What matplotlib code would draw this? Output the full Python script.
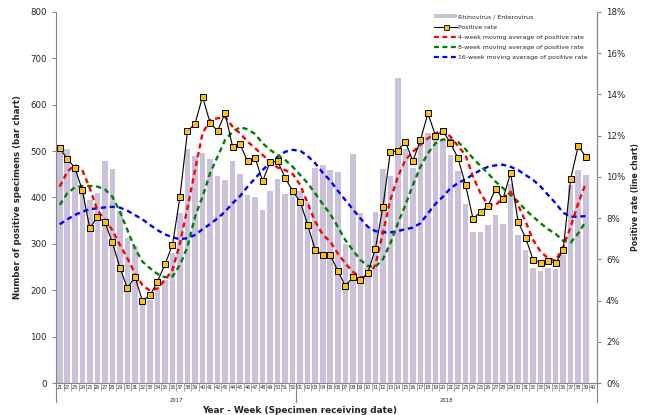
import numpy as np
import matplotlib.pyplot as plt
from matplotlib.patches import Patch
from matplotlib.lines import Line2D
from matplotlib.ticker import FuncFormatter
import matplotlib.transforms as mtransforms

plt.rcParams['font.family'] = ['DejaVu Sans']

weeks_2017 = [str(w) for w in range(21, 53)]
weeks_2018 = ['%02d' % w for w in range(1, 41)]
week_labels = weeks_2017 + weeks_2018

# weekly positive specimens (week 2018-40 has no data yet)
specimens = [505, 505, 460, 420, 395, 410, 478, 461, 370, 313, 295, 180, 178, 207, 222, 280,
             366, 504, 489, 495, 484, 446, 438, 479, 450, 405, 400, 372, 415, 439, 408, 408,
             413, 390, 463, 470, 459, 456, 300, 493, 366, 337, 368, 461, 446, 657, 505, 464,
             520, 540, 535, 527, 492, 458, 385, 326, 325, 341, 362, 343, 430, 319, 287, 249,
             242, 247, 246, 275, 428, 459, 448]

# positive rate (%)
pos_rate = [11.39, 10.87, 10.45, 9.36, 7.50, 8.07, 7.80, 6.83, 5.60, 4.59, 5.16, 3.99, 4.25,
            4.92, 5.76, 6.70, 9.04, 12.23, 12.57, 13.89, 12.63, 12.23, 13.09, 11.47, 11.58,
            10.76, 10.92, 9.80, 10.72, 10.76, 9.96, 9.30, 8.80, 7.67, 6.45, 6.21, 6.20, 5.45,
            4.71, 5.13, 4.98, 5.35, 6.50, 8.52, 11.21, 11.27, 11.71, 10.77, 11.78, 13.09,
            12.00, 12.24, 11.63, 10.92, 9.61, 7.97, 8.30, 8.59, 9.43, 8.94, 10.20, 7.81, 7.04,
            5.98, 5.84, 5.93, 5.81, 6.45, 9.91, 11.50, 10.98]

ma4 = [9.53, 10.25, 10.58, 10.33, 9.45, 8.39, 7.91, 7.42, 6.70, 6.05, 5.32, 4.75, 4.48, 4.59,
       5.00, 5.48, 6.78, 8.50, 10.33, 12.11, 12.76, 12.84, 12.92, 12.44, 12.11, 11.71, 11.39,
       11.06, 10.74, 10.45, 10.33, 10.14, 9.61, 8.72, 7.83, 7.20, 6.86, 6.29, 5.81, 5.40, 5.13,
       5.13, 5.73, 7.26, 8.88, 10.01, 10.82, 11.22, 11.55, 11.87, 12.11, 12.28, 11.95, 11.50,
       11.06, 10.01, 9.20, 8.64, 8.64, 8.96, 9.28, 8.64, 7.83, 6.94, 6.37, 6.05, 5.93, 6.61,
       7.58, 8.72, 9.69]

ma8 = [8.64, 9.20, 9.49, 9.56, 9.56, 9.53, 9.40, 9.04, 8.31, 7.42, 6.54, 5.89, 5.57, 5.29,
       5.13, 5.16, 5.73, 6.61, 8.07, 9.04, 10.17, 10.98, 11.79, 12.19, 12.41, 12.31, 12.08,
       11.63, 11.31, 11.06, 10.82, 10.49, 10.09, 9.69, 9.20, 8.68, 8.20, 7.58, 6.94, 6.45,
       5.97, 5.68, 5.64, 6.00, 6.78, 7.75, 8.64, 9.61, 10.49, 11.15, 11.63, 11.82, 11.79,
       11.70, 11.34, 10.90, 10.53, 10.17, 9.77, 9.45, 9.12, 8.80, 8.39, 8.07, 7.75, 7.46,
       7.23, 6.90, 6.81, 7.26, 7.83]

ma16 = [7.70, 7.94, 8.15, 8.31, 8.43, 8.48, 8.52, 8.55, 8.51, 8.36, 8.15, 7.94, 7.67, 7.42,
        7.21, 7.07, 6.97, 7.03, 7.18, 7.46, 7.71, 7.99, 8.31, 8.72, 9.07, 9.53, 9.93, 10.33,
        10.69, 10.98, 11.22, 11.31, 11.27, 11.01, 10.66, 10.20, 9.82, 9.33, 8.88, 8.43, 7.99,
        7.58, 7.37, 7.31, 7.31, 7.37, 7.46, 7.54, 7.75, 8.23, 8.69, 9.04, 9.45, 9.70, 9.88,
        10.12, 10.33, 10.49, 10.56, 10.59, 10.49, 10.33, 10.09, 9.85, 9.53, 9.12, 8.72, 8.26,
        8.07, 8.07, 8.10]

x_all = np.arange(len(week_labels))
x = np.arange(len(specimens))
axis_grey = '#868686'
txt = '#262626'

fig = plt.figure(figsize=(6.47, 4.15), dpi=100)
ax = fig.add_axes([56 / 647, 1 - 383 / 415, 541 / 647, 371 / 415])

ax.bar(x, specimens, width=0.74, color='#CCC1DA', zorder=1)
ax.set_xlim(-0.5, len(week_labels) - 0.5)
ax.set_ylim(0, 800)
ax.set_yticks(range(0, 801, 100))
ax.tick_params(axis='y', labelsize=6.2, colors=axis_grey, labelcolor=txt, length=3, width=0.8)
ax.set_ylabel('Number of positive specimens (bar chart)', fontsize=6.2, fontweight='bold',
              color=txt, labelpad=6)

# category axis: separator ticks between weeks, labels centred
ax.set_xticks(np.arange(-0.5, len(week_labels), 1.0))
ax.set_xticklabels([])
ax.set_xticks(x_all, minor=True)
ax.set_xticklabels(week_labels, minor=True, fontsize=3.6, color=txt)
ax.tick_params(axis='x', which='major', length=6, width=0.5, colors=axis_grey)
ax.tick_params(axis='x', which='minor', length=0, pad=1.5)

for s in ['top']:
    ax.spines[s].set_visible(False)
for s in ['left', 'right', 'bottom']:
    ax.spines[s].set_color(axis_grey)
    ax.spines[s].set_linewidth(0.8)

trans = mtransforms.blended_transform_factory(ax.transData, ax.transAxes)
for xs in [-0.5, 31.5, len(week_labels) - 0.5]:
    ax.plot([xs, xs], [0, -0.052], transform=trans, color=axis_grey, lw=0.8, clip_on=False)
ax.text(15.5, -0.046, '2017', transform=trans, ha='center', va='center', fontsize=3.8, color=txt)
ax.text(51.5, -0.046, '2018', transform=trans, ha='center', va='center', fontsize=3.8, color=txt)
ax.text(0.45, -0.075, 'Year - Week (Specimen receiving date)', transform=ax.transAxes,
        ha='center', va='center', fontsize=6.4, fontweight='bold', color=txt)

ax2 = ax.twinx()
ax2.set_ylim(0, 18)
ax2.set_yticks(range(0, 19, 2))
ax2.yaxis.set_major_formatter(FuncFormatter(lambda v, p: '%d%%' % v))
ax2.tick_params(axis='y', labelsize=6.2, colors=axis_grey, labelcolor=txt, length=3, width=0.8)
for s in ['top', 'left', 'bottom']:
    ax2.spines[s].set_visible(False)
ax2.spines['right'].set_color(axis_grey)
ax2.spines['right'].set_linewidth(0.8)
ax2.set_ylabel('Positive rate (line chart)', fontsize=5.6, fontweight='bold', color=txt,
               rotation=90, labelpad=4)

dash = (0, (2.2, 1.6))
ax2.plot(x, ma16, color='#0000FF', lw=1.7, linestyle=dash, zorder=2)
ax2.plot(x, ma8, color='#008000', lw=1.7, linestyle=dash, zorder=3)
ax2.plot(x, ma4, color='#FF0000', lw=1.7, linestyle=dash, zorder=4)
ax2.plot(x, pos_rate, color='black', lw=0.8, marker='s', markersize=4.2,
         markerfacecolor='#FFC000', markeredgecolor='black', markeredgewidth=0.7, zorder=5)

handles = [
    Patch(facecolor='#CCC1DA', edgecolor='none'),
    Line2D([], [], color='black', lw=0.8, marker='s', markersize=3.6,
           markerfacecolor='#FFC000', markeredgecolor='black', markeredgewidth=0.6),
    Line2D([], [], color='#FF0000', lw=1.6, linestyle=dash),
    Line2D([], [], color='#008000', lw=1.6, linestyle=dash),
    Line2D([], [], color='#0000FF', lw=1.6, linestyle=dash),
]
labels = ['Rhinovirus / Enterovirus', 'Positive rate',
          '4-week moving average of positive rate',
          '8-week moving average of positive rate',
          '16-week moving average of positive rate']
leg = ax2.legend(handles, labels, loc='upper left', bbox_to_anchor=(0.694, 1.0),
                 frameon=False, fontsize=4.5, handlelength=3.7, handleheight=0.6,
                 handletextpad=0.15, labelspacing=0.8, borderaxespad=0)
for t in leg.get_texts():
    t.set_color(txt)

fig.savefig('out.png', dpi=100)
